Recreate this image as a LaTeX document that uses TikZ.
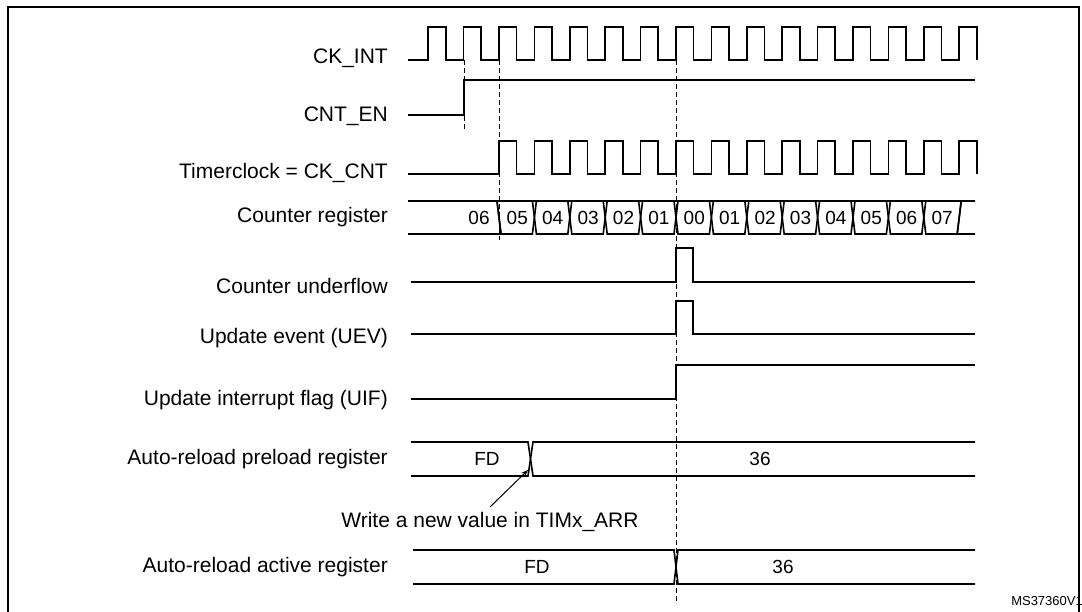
\documentclass[tikz,border=0pt]{standalone}
\usepackage{fontspec}
\setmainfont{Liberation Sans}
\usetikzlibrary{arrows.meta,positioning}
\begin{document}
\begin{tikzpicture}[x=1pt,y=-1pt,
    sig/.style={line width=1.6pt},
    lbl/.style={anchor=east,font=\fontsize{21}{23}\selectfont,inner sep=0pt},
    val/.style={font=\fontsize{19}{21}\selectfont,inner sep=0pt},
    guide/.style={line width=1pt,dash pattern=on 5pt off 3pt}]
    \useasboundingbox (0,0) rectangle (1082,612);
    %cadre
        \draw [line width=1.6pt] (8,640) -- (8,7) -- (1079,7) -- (1079,640);
    %noms des signaux
        \node [lbl] (ckint) at (388,58) {CK\_INT};
        \node [lbl] (cnten) at (388,116) {CNT\_EN};
        \node [lbl] (tclk) at (388,173) {Timerclock = CK\_CNT};
        \node [lbl] (creg) at (388,217) {Counter register};
        \node [lbl] (unf) at (388,286) {Counter underflow};
        \node [lbl] (uev) at (388,338) {Update event (UEV)};
        \node [lbl] (uif) at (388,400) {Update interrupt flag (UIF)};
        \node [lbl] (arp) at (388,459) {Auto-reload preload register};
        \node [lbl] (ara) at (388,567) {Auto-reload active register};
    %horloges
        \draw [sig] (408,60)
            \foreach \k in {0,...,15} { -- ({428.2+\k*35.4},60) -- ({428.2+\k*35.4},27) -- ({445.7+\k*35.4},27) -- ({445.7+\k*35.4},60) };
        \draw [sig] (408,174)
            \foreach \k in {2,...,15} { -- ({428.2+\k*35.4},174) -- ({428.2+\k*35.4},141) -- ({445.7+\k*35.4},141) -- ({445.7+\k*35.4},174) };
        \draw [sig] (408,115) -- (464,115) -- (464,80) -- (975,80);
    %repères
        \draw [guide] (464,60) -- (464,130);
        \draw [guide] (499,60) -- (499,240);
        \draw [guide] (676,60) -- (676,602);
    %registre du compteur
        \draw [sig] (408,201) -- (497,201) -- (501,234) -- (408,234);
        \node [val] at (479,218) {06};
        \foreach \v [count=\i from 2] in {05,04,03,02,01,00,01,02,03,04,05,06,07} {
            \draw [sig] ({426.2+\i*35.4},201) -- ({430.2+\i*35.4},234)
                -- ({461.6+\i*35.4},234) -- ({465.6+\i*35.4},201) -- cycle;
            \node [val] at ({446.5+\i*35.4},218) {\v};
        }
        \draw [sig] (975,201) -- (961.2,201) -- (957.2,234) -- (975,234);
    %impulsions
        \draw [sig] (411,282) -- (676,282) -- (676,248) -- (693,248) -- (693,282) -- (975,282);
        \draw [sig] (411,334) -- (676,334) -- (676,301) -- (693,301) -- (693,334) -- (975,334);
        \draw [sig] (411,399) -- (676,399) -- (676,365) -- (975,365);
    %registres auto-reload
        \draw [sig] (411,442) -- (528,442) -- (533,476) -- (975,476);
        \draw [sig] (411,476) -- (528,476) -- (533,442) -- (975,442);
        \node [val] at (487,459) {FD};
        \node [val] at (760,459) {36};
        \coordinate (wr) at (528,470);
        \node [lbl,anchor=center] (wtxt) at (490,522) {Write a new value in TIMx\_ARR};
        \draw [line width=1pt,-{Stealth[length=7pt]}] (490,507) -- (wr);
        \draw [sig] (413,550) -- (674,550) -- (678,584) -- (975,584);
        \draw [sig] (413,584) -- (674,584) -- (678,550) -- (975,550);
        \node [val] at (537,567) {FD};
        \node [val] at (783,567) {36};
        \node [anchor=east,inner sep=0pt,font=\fontsize{13}{15}\selectfont] (ref) at (1083,601) {MS37360V1};
\end{tikzpicture}
\end{document}
